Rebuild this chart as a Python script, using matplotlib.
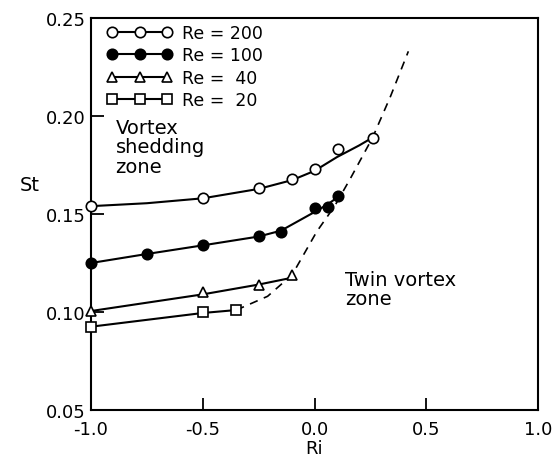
import matplotlib
matplotlib.use("Agg")
import matplotlib.pyplot as plt

plt.rcParams['font.family'] = ['DejaVu Sans']

# Measured data points
ri_200 = [-1.0, -0.5, -0.25, -0.10, 0.0, 0.105, 0.26]
st_200 = [0.154, 0.158, 0.1633, 0.168, 0.173, 0.183, 0.189]
ri_100 = [-1.0, -0.75, -0.5, -0.25, -0.15, 0.0, 0.06, 0.105]
st_100 = [0.125, 0.1296, 0.134, 0.139, 0.141, 0.153, 0.1535, 0.159]
ri_40 = [-1.0, -0.5, -0.25, -0.10]
st_40 = [0.1005, 0.110, 0.114, 0.119]
ri_20 = [-1.0, -0.5, -0.35]
st_20 = [0.0925, 0.100, 0.101]

# Fitted curves
fit_ri_200 = [-1.0, -0.75, -0.5, -0.25, -0.1, 0.0, 0.1, 0.2, 0.26]
fit_st_200 = [0.154, 0.1555, 0.158, 0.1628, 0.1673, 0.172, 0.179, 0.185, 0.189]
fit_ri_100 = [-1.0, -0.75, -0.5, -0.25, -0.15, 0.0, 0.06, 0.105]
fit_st_100 = [0.125, 0.1296, 0.134, 0.1385, 0.1415, 0.151, 0.155, 0.1587]
fit_ri_40 = [-1.0, -0.5, -0.25, -0.10]
fit_st_40 = [0.1005, 0.109, 0.114, 0.1175]
fit_ri_20 = [-1.0, -0.5, -0.35]
fit_st_20 = [0.0925, 0.0995, 0.101]

# Boundary (dashed) between zones
bnd_ri = [-0.35, -0.28, -0.21, -0.10, 0.01, 0.09, 0.16, 0.26, 0.34, 0.42]
bnd_st = [0.101, 0.1045, 0.108, 0.119, 0.141, 0.154, 0.168, 0.189, 0.210, 0.233]

labels = ["Re = 200", "Re = 100", "Re =  40", "Re =  20"]

fig = plt.figure(figsize=(5.53, 4.60), dpi=100)
ax = fig.add_axes([91/553, 1-411/460, (538-91)/553, (411-19)/460])

lw = 1.5
ms = 7.5
series = [
    (ri_200, st_200, fit_ri_200, fit_st_200, 'o', 'white'),
    (ri_100, st_100, fit_ri_100, fit_st_100, 'o', 'black'),
    (ri_40, st_40, fit_ri_40, fit_st_40, '^', 'white'),
    (ri_20, st_20, fit_ri_20, fit_st_20, 's', 'white'),
]
handles = []
for (rx, sy, fx, fy, m, fc), lab in zip(series, labels):
    ax.plot(fx, fy, '-', color='black', lw=lw, zorder=2)
    ax.plot(rx, sy, linestyle='none', marker=m, markersize=ms,
            markerfacecolor=fc, markeredgecolor='black', markeredgewidth=1.2,
            clip_on=False, zorder=3)
    h, = ax.plot([], [], '-', color='black', lw=lw, marker=m, markersize=ms,
                 markerfacecolor=fc, markeredgecolor='black', markeredgewidth=1.2)
    handles.append(h)

ax.plot(bnd_ri, bnd_st, '--', color='black', lw=1.2, dashes=(5, 4), zorder=2)

leg = ax.legend(handles, labels, loc='upper left', frameon=False, numpoints=3,
                handlelength=3.75, handletextpad=0.55, fontsize=12.5,
                labelspacing=0.24, borderaxespad=0.3,
                bbox_to_anchor=(0.009, 1.015))

ax.text(-0.89, 0.199, "Vortex\nshedding\nzone", fontsize=14, va='top',
        ha='left', linespacing=1.03)
ax.text(0.137, 0.1215, "Twin vortex\nzone", fontsize=14, va='top',
        ha='left', linespacing=1.03)

ax.set_xlim(-1.0, 1.0)
ax.set_ylim(0.05, 0.25)
ax.set_xticks([-1.0, -0.5, 0.0, 0.5, 1.0])
ax.set_xticklabels(["-1.0", "-0.5", "0.0", "0.5", "1.0"])
ax.set_yticks([0.05, 0.10, 0.15, 0.20, 0.25])
ax.set_yticklabels(["0.05", "0.10", "0.15", "0.20", "0.25"])
ax.tick_params(direction='in', length=9, width=1.3, labelsize=13)
ax.tick_params(axis='x', pad=7)
ax.tick_params(axis='y', pad=4)
for s in ax.spines.values():
    s.set_linewidth(1.5)

ax.set_xlabel("Ri", fontsize=13, labelpad=1)
ax.set_ylabel("St", fontsize=14, rotation=0, va='center', ha='center')
ax.yaxis.set_label_coords(-0.136, 0.576)

fig.savefig("out.png", dpi=100)
